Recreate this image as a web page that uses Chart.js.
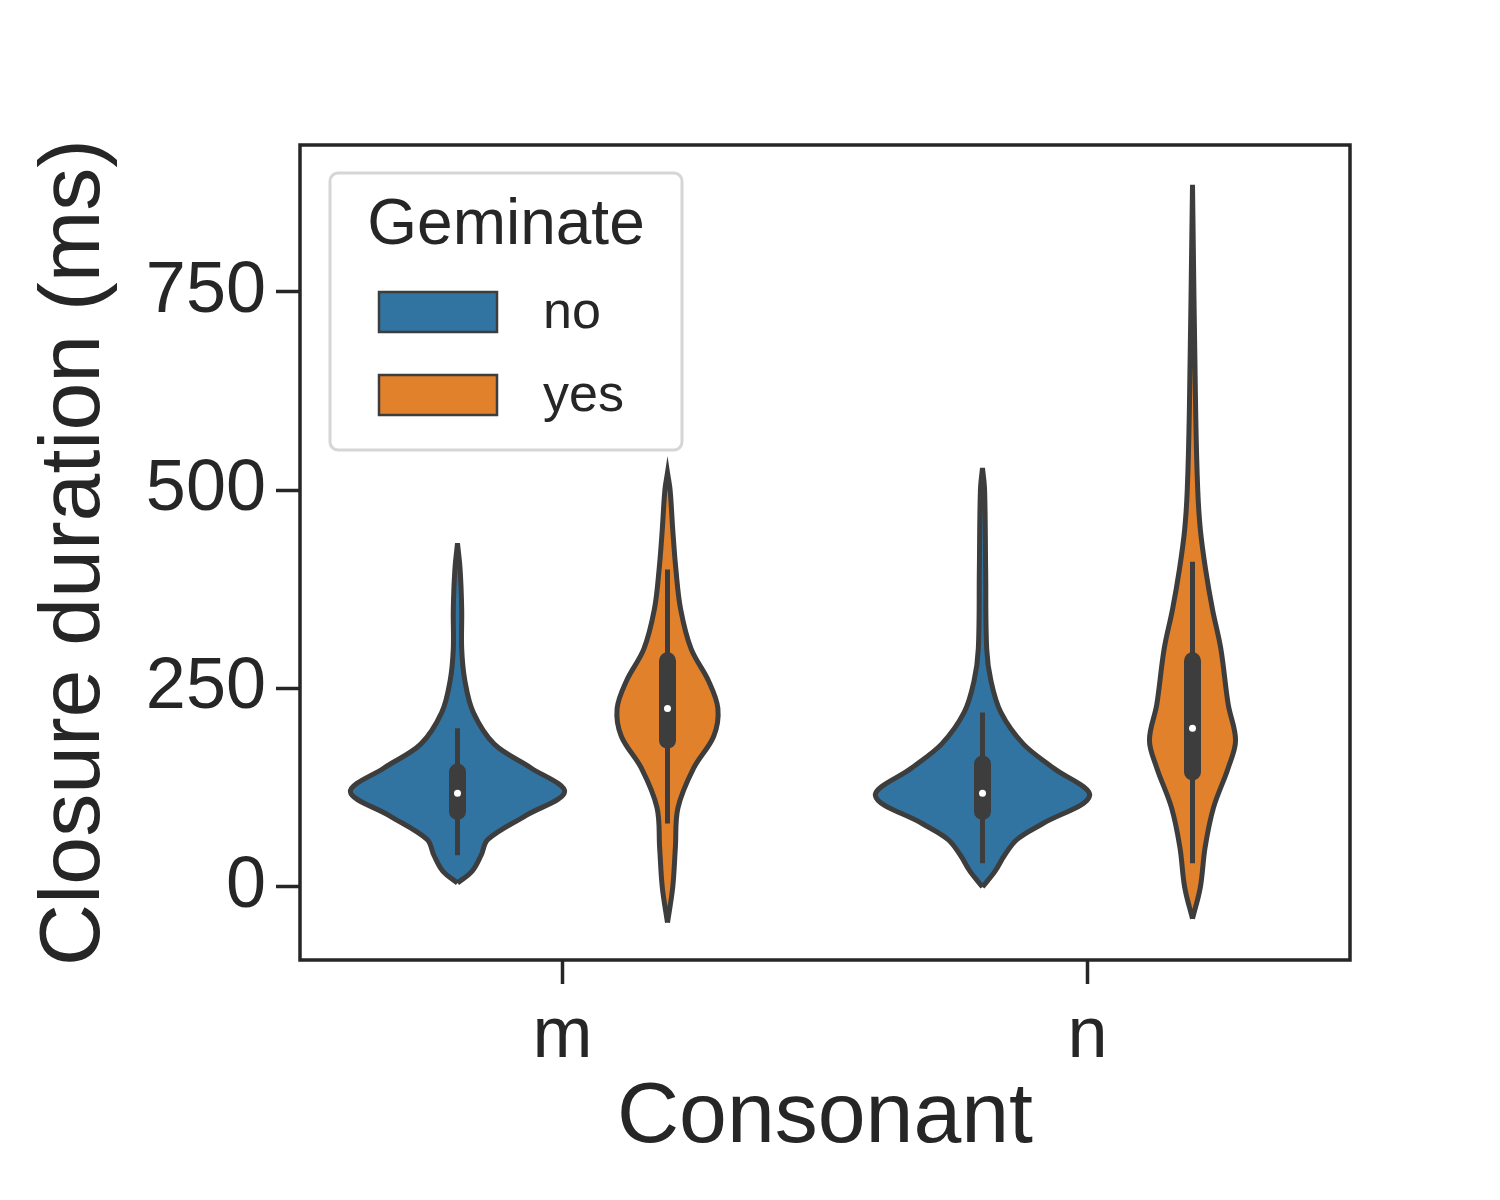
<!DOCTYPE html>
<html><head><meta charset="utf-8">
<script src="https://cdn.jsdelivr.net/npm/chart.js@4"></script>
<style>body{margin:0;background:#fff}canvas{display:block}</style>
</head><body>
<div style="width:1500px;height:1200px"><canvas id="c" width="1500" height="1200"></canvas></div>
<script>
// Categories and hue levels
const consonants = ['m', 'n'];
const geminate = ['no', 'yes'];
const colors = ['#3274a1', '#e1812c'];
const edge = '#3d3d3d';
const yTicks = [0, 250, 500, 750];

// Violin profiles: y levels and half-widths (in category units)
const mNoY =  [5, 20, 40, 60, 90, 120, 150, 180, 220, 260, 300, 350, 400, 433];
const mNoW =  [0, 0.028, 0.045, 0.058, 0.13, 0.204, 0.14, 0.07, 0.03, 0.014, 0.008, 0.008, 0.005, 0];
const mYesY = [-45, 0, 50, 100, 150, 190, 225, 260, 300, 350, 400, 450, 500, 522];
const mYesW = [0, 0.01, 0.015, 0.02, 0.05, 0.088, 0.096, 0.078, 0.045, 0.025, 0.016, 0.01, 0.005, 0];
const nNoY =  [0, 20, 40, 60, 80, 115, 150, 180, 220, 260, 300, 400, 500, 528];
const nNoW =  [0, 0.024, 0.042, 0.066, 0.115, 0.204, 0.135, 0.078, 0.035, 0.016, 0.008, 0.006, 0.004, 0];
const nYesY = [-40, 0, 50, 100, 150, 185, 230, 300, 350, 400, 450, 500, 600, 885];
const nYesW = [0, 0.015, 0.024, 0.04, 0.068, 0.082, 0.068, 0.054, 0.038, 0.025, 0.015, 0.01, 0.006, 0];

// Box stats: [whiskerLo, q1, median, q3, whiskerHi]
const mNoBox  = [40, 95, 118, 145, 200];
const mYesBox = [80, 185, 225, 285, 400];
const nNoBox  = [30, 95, 118, 155, 220];
const nYesBox = [30, 145, 200, 285, 410];

const violins = [
  {x: -0.2, ys: mNoY, ws: mNoW, box: mNoBox, hue: 0},
  {x: 0.2, ys: mYesY, ws: mYesW, box: mYesBox, hue: 1},
  {x: 0.8, ys: nNoY, ws: nNoW, box: nNoBox, hue: 0},
  {x: 1.2, ys: nYesY, ws: nYesW, box: nYesBox, hue: 1}
];

const datasets = [];
violins.forEach(v => {
  const right = v.ys.map((y, i) => ({x: v.x + v.ws[i], y}));
  const left = v.ys.map((y, i) => ({x: v.x - v.ws[i], y})).reverse();
  datasets.push({
    data: right.concat(left), order: 3,
    showLine: true, fill: 'shape', tension: 0.35,
    backgroundColor: colors[v.hue], borderColor: edge, borderWidth: 5,
    pointRadius: 0
  });
  datasets.push({data: [{x: v.x, y: v.box[0]}, {x: v.x, y: v.box[4]}], showLine: true, order: 2,
    borderColor: edge, borderWidth: 5, pointRadius: 0});
  datasets.push({data: [{x: v.x, y: v.box[1]}, {x: v.x, y: v.box[3]}], showLine: true, order: 1,
    borderColor: edge, borderWidth: 17, pointRadius: 0, borderCapStyle: 'round'});
  datasets.push({data: [{x: v.x, y: v.box[2]}], order: 0, pointRadius: 3.5,
    pointBackgroundColor: '#fff', pointBorderWidth: 0});
});

const frameAndLegend = {
  id: 'frameAndLegend',
  afterDraw(chart) {
    const ctx = chart.ctx, a = chart.chartArea;
    ctx.save();
    ctx.strokeStyle = '#262626'; ctx.lineWidth = 3.5;
    ctx.strokeRect(a.left, a.top, a.right - a.left, a.bottom - a.top);
    // legend
    ctx.fillStyle = 'rgba(255,255,255,0.8)'; ctx.strokeStyle = '#d6d6d6'; ctx.lineWidth = 3;
    ctx.beginPath(); ctx.roundRect(330, 173, 352, 277, 8); ctx.fill(); ctx.stroke();
    ctx.fillStyle = '#262626'; ctx.font = '64px "Liberation Sans", Arial';
    ctx.textAlign = 'center'; ctx.textBaseline = 'middle';
    ctx.fillText('Geminate', 506, 226);
    ctx.font = '52px "Liberation Sans", Arial'; ctx.textAlign = 'left';
    geminate.forEach((g, i) => {
      const y = 292 + i * 83;
      ctx.fillStyle = colors[i]; ctx.fillRect(379, y, 118, 40);
      ctx.strokeStyle = edge; ctx.lineWidth = 2.5; ctx.strokeRect(379, y, 118, 40);
      ctx.fillStyle = '#262626'; ctx.fillText(g, 543, y + 22);
    });
    ctx.restore();
  }
};

new Chart(document.getElementById('c'), {
  type: 'scatter',
  data: {datasets},
  plugins: [frameAndLegend],
  options: {
    responsive: false, devicePixelRatio: 1, animation: false,
    layout: {padding: {left: 20, top: 145, right: 150, bottom: 0}},
    plugins: {legend: {display: false}, tooltip: {enabled: false}},
    scales: {
      x: {
        type: 'linear', min: -0.5, max: 1.5,
        afterFit: s => { s.height = 240; },
        afterBuildTicks: s => { s.ticks = consonants.map((c, i) => ({value: i})); },
        ticks: {callback: v => consonants[v], color: '#262626', padding: 10,
          font: {family: '"Liberation Sans", Arial', size: 72}},
        grid: {drawOnChartArea: false, tickLength: 24, tickWidth: 3.5, color: '#262626'},
        border: {display: false},
        title: {display: true, text: 'Consonant', color: '#262626', padding: {top: 0, bottom: 30},
          font: {family: '"Liberation Sans", Arial', size: 86}}
      },
      y: {
        min: -92, max: 935,
        afterFit: s => { s.width = 280; },
        afterBuildTicks: s => { s.ticks = yTicks.map(v => ({value: v})); },
        ticks: {color: '#262626', padding: 10,
          font: {family: '"Liberation Sans", Arial', size: 72}},
        grid: {drawOnChartArea: false, tickLength: 24, tickWidth: 3.5, color: '#262626'},
        border: {display: false},
        title: {display: true, text: 'Closure duration (ms)', color: '#262626', padding: {bottom: 0},
          font: {family: '"Liberation Sans", Arial', size: 86}}
      }
    }
  }
});
</script>
</body></html>
